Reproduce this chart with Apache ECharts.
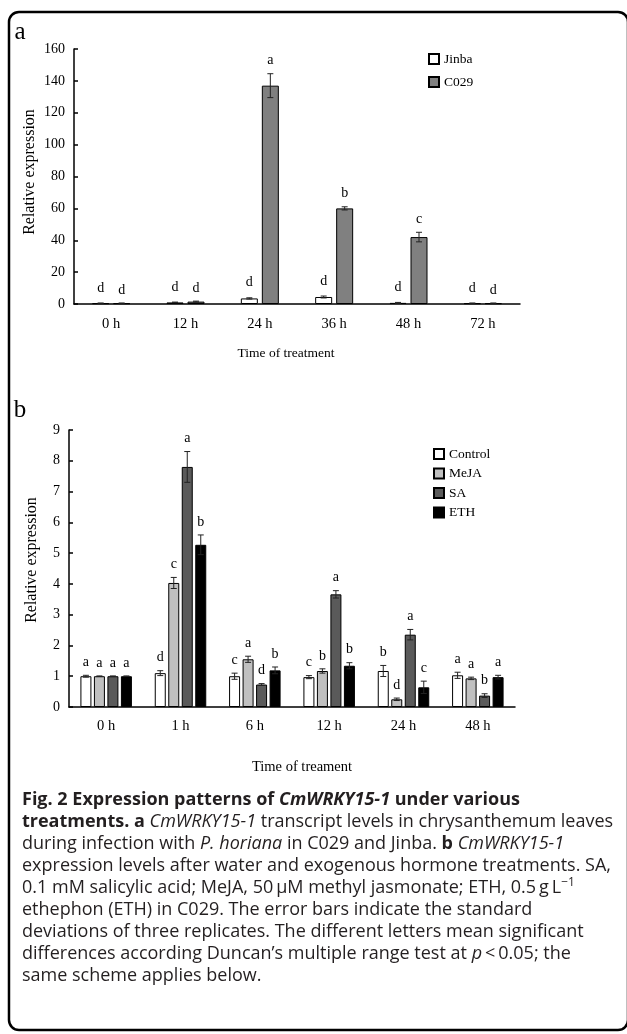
<!DOCTYPE html>
<html><head><meta charset="utf-8">
<script src="https://cdn.jsdelivr.net/npm/echarts@6/dist/echarts.min.js"></script>
<style>html,body{margin:0;padding:0;background:#fff}#c{width:627px;height:1034px}</style>
</head><body><div id="c"></div>
<script>
// ---- Panel a data ----
const catsA = ['0 h','12 h','24 h','36 h','48 h','72 h'];
const jinba = [0.5, 1.0, 3.5, 4.4, 0.7, 0.5];
const jinbaErr = [0.1, 0.2, 0.4, 0.6, 0.3, 0.1];
const jinbaLetters = ['d','d','d','d','d','d'];
const c029 = [0.5, 1.5, 137, 60, 42, 0.5];
const c029Err = [0.1, 0.3, 7.5, 1, 3, 0.1];
const c029Letters = ['d','d','a','b','c','d'];
const yAxisA = {min: 0, max: 160, interval: 20};

// ---- Panel b data ----
const catsB = ['0 h','1 h','6 h','12 h','24 h','48 h'];
const control = [1.0, 1.1, 1.0, 0.97, 1.17, 1.03];
const controlErr = [0.03, 0.08, 0.1, 0.05, 0.18, 0.1];
const controlLetters = ['a','d','c','c','b','a'];
const meja = [1.0, 4.03, 1.55, 1.17, 0.25, 0.93];
const mejaErr = [0.01, 0.18, 0.1, 0.07, 0.04, 0.04];
const mejaLetters = ['a','c','a','b','d','a'];
const sa = [1.0, 7.8, 0.73, 3.66, 2.35, 0.37];
const saErr = [0.01, 0.5, 0.03, 0.12, 0.17, 0.06];
const saLetters = ['a','a','d','a','a','b'];
const eth = [1.0, 5.27, 1.19, 1.34, 0.64, 0.97];
const ethErr = [0.01, 0.32, 0.11, 0.1, 0.2, 0.06];
const ethLetters = ['a','b','b','b','c','a'];
const yAxisB = {min: 0, max: 9, interval: 1};

const SERIF = '"Liberation Serif", "Times New Roman", serif';
const SANS = '"Open Sans", "Noto Sans", sans-serif';

function errSeries(name, gi, vals, errs, letters, k, count, bw, gap, offset) {
  return {
    type: 'custom', name: name + ' err', xAxisIndex: gi, yAxisIndex: gi, z: 5, silent: true,
    data: vals.map((v, i) => [i, v, errs[i]]),
    renderItem: function (params, api) {
      const ci = api.value(0), v = api.value(1), e = api.value(2);
      const base = api.coord([ci, v]);
      const x = base[0] + (k - (count - 1) / 2) * (bw + gap);
      const yt = api.coord([ci, v + e])[1];
      const yb = api.coord([ci, Math.max(v - e, 0)])[1];
      const cw = 3;
      const ls = {stroke: '#222', lineWidth: 1};
      return {type: 'group', children: [
        {type: 'line', shape: {x1: x, y1: yt, x2: x, y2: yb}, style: ls},
        {type: 'line', shape: {x1: x - cw, y1: yt, x2: x + cw, y2: yt}, style: ls},
        {type: 'line', shape: {x1: x - cw, y1: yb, x2: x + cw, y2: yb}, style: ls},
        {type: 'text', style: {text: letters[params.dataIndex], x: x, y: yt - offset,
          align: 'center', verticalAlign: 'middle', fontSize: 14, fontFamily: SERIF, fill: '#000'}}
      ]};
    }
  };
}

function barSeries(name, gi, vals, color, bw, gap) {
  return {
    type: 'bar', name: name, xAxisIndex: gi, yAxisIndex: gi, data: vals,
    barWidth: bw, barGap: (gap / bw * 100) + '%',
    itemStyle: {color: color, borderColor: '#000', borderWidth: 1},
    emphasis: {disabled: true}
  };
}

const axisLine = {lineStyle: {color: '#000', width: 1.5}};
function xAx(gi, cats, margin) {
  return {type: 'category', gridIndex: gi, data: cats,
    axisLine: axisLine, axisTick: {inside: true, length: 6, interval: 0, lineStyle: {color: '#000', width: 1.5}},
    axisLabel: {color: '#000', fontSize: 14.5, fontFamily: SERIF, margin: margin, interval: 0},
    splitLine: {show: false}};
}
function yAx(gi, r) {
  return {type: 'value', gridIndex: gi, min: r.min, max: r.max, interval: r.interval,
    axisLine: {show: true, lineStyle: {color: '#000', width: 1.5}},
    axisTick: {show: true, inside: true, length: 4, lineStyle: {color: '#000', width: 1.5}},
    axisLabel: {color: '#000', fontSize: 14, fontFamily: SERIF, margin: 9},
    splitLine: {show: false}};
}

const bwA = 17, gapA = 4;
const bwB = 11, gapB = 2.5;

const series = [
  barSeries('Jinba', 0, jinba, '#ffffff', bwA, gapA),
  barSeries('C029', 0, c029, '#808080', bwA, gapA),
  errSeries('Jinba', 0, jinba, jinbaErr, jinbaLetters, 0, 2, bwA, gapA, 15),
  errSeries('C029', 0, c029, c029Err, c029Letters, 1, 2, bwA, gapA, 13),
  barSeries('Control', 1, control, '#ffffff', bwB, gapB),
  barSeries('MeJA', 1, meja, '#c0c0c0', bwB, gapB),
  barSeries('SA', 1, sa, '#5a5a5a', bwB, gapB),
  barSeries('ETH', 1, eth, '#000000', bwB, gapB),
  errSeries('Control', 1, control, controlErr, controlLetters, 0, 4, bwB, gapB, 13),
  errSeries('MeJA', 1, meja, mejaErr, mejaLetters, 1, 4, bwB, gapB, 13),
  errSeries('SA', 1, sa, saErr, saLetters, 2, 4, bwB, gapB, 13),
  errSeries('ETH', 1, eth, ethErr, ethLetters, 3, 4, bwB, gapB, 13)
];

const captionLines = [
  '{b|Fig. 2 Expression patterns of }{bi|CmWRKY15-1}{b| under various}',
  '{b|treatments. a }{i|CmWRKY15-1}{n| transcript levels in chrysanthemum leaves}',
  '{n|during infection with }{i|P. horiana}{n| in C029 and Jinba. }{b|b }{i|CmWRKY15-1}',
  '{n|expression levels after water and exogenous hormone treatments. SA,}',
  '{n|0.1 mM salicylic acid; MeJA, 50\u2009\u03bcM methyl jasmonate; ETH, 0.5\u2009g\u2009L}{sup|\u22121}',
  '{n|ethephon (ETH) in C029. The error bars indicate the standard}',
  '{n|deviations of three replicates. The different letters mean significant}',
  '{n|differences according Duncan\u2019s multiple range test at }{i|p}{n|\u2009<\u20090.05; the}',
  '{n|same scheme applies below.}'
];
const capFont = 18;
const capRich = {
  n: {fontSize: capFont, fontFamily: SANS, fill: '#231f20'},
  b: {fontSize: capFont, fontFamily: SANS, fontWeight: 'bold', fill: '#231f20'},
  i: {fontSize: capFont, fontFamily: SANS, fontStyle: 'italic', fill: '#231f20'},
  bi: {fontSize: capFont, fontFamily: SANS, fontWeight: 'bold', fontStyle: 'italic', fill: '#231f20'},
  sup: {fontSize: 12, fontFamily: SANS, fill: '#231f20', verticalAlign: 'top'}
};

const graphics = [
  {type: 'rect', shape: {x: 9, y: 12, width: 619, height: 1018, r: 10},
    style: {fill: 'none', stroke: '#000', lineWidth: 2.5}, silent: true},
  {type: 'text', style: {text: 'a', x: 20, y: 32, align: 'center', verticalAlign: 'middle', fontSize: 25, fontFamily: SERIF, fill: '#000'}},
  {type: 'text', style: {text: 'b', x: 20, y: 410, align: 'center', verticalAlign: 'middle', fontSize: 25, fontFamily: SERIF, fill: '#000'}},
  {type: 'text', style: {text: 'Time of treatment', x: 286, y: 353, align: 'center', verticalAlign: 'middle', fontSize: 13.5, fontFamily: SERIF, fill: '#000'}},
  {type: 'text', style: {text: 'Time of treament', x: 302, y: 767, align: 'center', verticalAlign: 'middle', fontSize: 14.5, fontFamily: SERIF, fill: '#000'}},
  {type: 'text', x: 30, y: 172, rotation: Math.PI / 2, style: {text: 'Relative expression', x: 0, y: 0, align: 'center', verticalAlign: 'middle', fontSize: 16, fontFamily: SERIF, fill: '#000'}},
  {type: 'text', x: 32, y: 560, rotation: Math.PI / 2, style: {text: 'Relative expression', x: 0, y: 0, align: 'center', verticalAlign: 'middle', fontSize: 16, fontFamily: SERIF, fill: '#000'}}
];
captionLines.forEach((t, i) => {
  graphics.push({type: 'text', style: {text: t, x: 22, y: 800 + i * 22, align: 'left', verticalAlign: 'middle', rich: capRich, lineHeight: 22}});
});

const chart = echarts.init(document.getElementById('c'), null, {renderer: 'canvas'});
chart.setOption({
  animation: false,
  backgroundColor: '#fff',
  grid: [
    {left: 74, top: 49, width: 446, height: 255},
    {left: 69, top: 430, width: 446, height: 277}
  ],
  xAxis: [xAx(0, catsA, 13), xAx(1, catsB, 12)],
  yAxis: [yAx(0, yAxisA), yAx(1, yAxisB)],
  legend: [
    {data: ['Jinba', 'C029'], orient: 'vertical', left: 423, top: 47, icon: 'rect', itemWidth: 10, itemHeight: 10, itemGap: 9,
      textStyle: {fontSize: 13.5, fontFamily: SERIF, color: '#000'}, selectedMode: false},
    {data: ['Control', 'MeJA', 'SA', 'ETH'], orient: 'vertical', left: 428, top: 442, icon: 'rect', itemWidth: 10, itemHeight: 10, itemGap: 5.5,
      textStyle: {fontSize: 13.5, fontFamily: SERIF, color: '#000'}, selectedMode: false}
  ],
  series: series,
  graphic: graphics
});
</script>
</body></html>
